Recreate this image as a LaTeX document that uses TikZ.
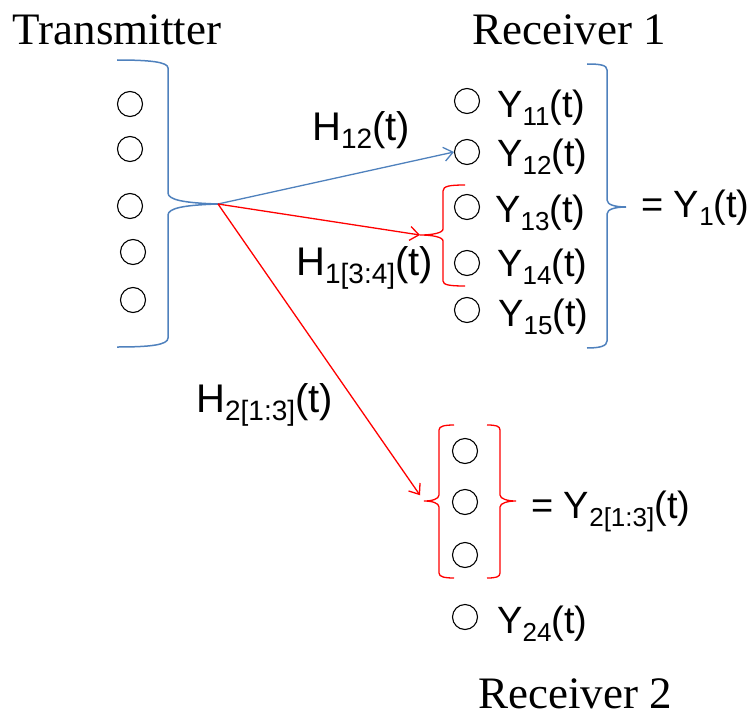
\documentclass[tikz,border=0pt]{standalone}
\usepackage{fontspec}
\setmainfont{Liberation Serif}
\setsansfont{Liberation Sans}
\usepackage{xcolor}
\usetikzlibrary{arrows.meta,calc}
\definecolor{braceblue}{RGB}{79,129,189}
\newcommand{\lowsub}[1]{\raisebox{-8pt}{\fontsize{26}{26}\selectfont #1}}
\newcommand{\lowsubh}[1]{\raisebox{-8pt}{\fontsize{28}{28}\selectfont #1}}
\begin{document}
\begin{tikzpicture}[x=1pt, y=1pt,
  dot/.style={circle, draw=black, line width=1.1pt, minimum size=25pt, inner sep=0pt},
  head/.style={font=\fontsize{45}{50}\selectfont, inner sep=0pt, anchor=base},
  lbl/.style={font=\sffamily\fontsize{38}{40}\selectfont, inner sep=0pt, anchor=base west},
  hlbl/.style={lbl, font=\sffamily\fontsize{40}{42}\selectfont},
  bluebrace/.style={draw=braceblue, line width=1.5pt},
  redbrace/.style={draw=red, line width=1.3pt},
  arr/.style={-{Straight Barb[length=9pt,width=14pt]}, line width=1.3pt}]
\useasboundingbox (0,0) rectangle (752,-717);
\node[head] (tx) at (117,-45) {Transmitter};
\node[head] (rx1) at (569,-45) {Receiver 1};
\node[head] (rx2) at (575,-708) {Receiver 2};
\node[dot] (t1) at (130,-104) {};
\node[dot] (t2) at (130,-149) {};
\node[dot] (t3) at (130,-206) {};
\node[dot] (t4) at (133,-252) {};
\node[dot] (t5) at (133,-300) {};
\node[dot] (r11) at (467,-101) {};
\node[dot] (r12) at (467,-152) {};
\node[dot] (r13) at (467,-207) {};
\node[dot] (r14) at (467,-263) {};
\node[dot] (r15) at (467,-310) {};
\node[dot] (r21) at (465,-451) {};
\node[dot] (r22) at (465,-502) {};
\node[dot] (r23) at (465,-555) {};
\node[dot] (r24) at (465,-617) {};
\node[lbl] (y11) at (497,-117) {Y\lowsub{11}(t)};
\node[lbl] (y12) at (497,-166) {Y\lowsub{12}(t)};
\node[lbl] (y13) at (495,-222) {Y\lowsub{13}(t)};
\node[lbl] (y14) at (497,-276) {Y\lowsub{14}(t)};
\node[lbl] (y15) at (498,-326) {Y\lowsub{15}(t)};
\node[lbl] (y24) at (497,-633) {Y\lowsub{24}(t)};
\node[lbl] (y1) at (641,-217) {= Y\lowsub{1}(t)};
\node[lbl] (y2) at (531,-518) {= Y\lowsub{2[1:3]}(t)};
\node[hlbl] (h12) at (312,-140) {H\lowsubh{12}(t)};
\node[hlbl] (h134) at (296,-275) {H\lowsubh{1[3:4]}(t)};
\node[hlbl] (h213) at (196,-412) {H\lowsubh{2[1:3]}(t)};
\coordinate (txtip) at (218,-204);
\coordinate (r1tip) at (420,-235);
\coordinate (r2tip) at (424,-501);
\draw[bluebrace] (117,-60) .. controls (150,-60) and (168,-62) .. (168,-68) -- (168,-193)
  .. controls (168,-200) and (185,-203) .. (txtip) .. controls (185,-205) and (168,-208) .. (168,-215)
  -- (168,-338) .. controls (168,-345) and (150,-347) .. (117,-347);
\draw[bluebrace] (587,-64) .. controls (600,-64) and (607,-65) .. (607,-70) -- (607,-200)
  .. controls (607,-205) and (616,-207) .. (626,-207) .. controls (616,-207) and (607,-209) .. (607,-214)
  -- (607,-341) .. controls (607,-346) and (600,-348) .. (587,-348);
\draw[redbrace] (465,-185) .. controls (450,-185) and (443,-186) .. (443,-191) -- (443,-229)
  .. controls (443,-233) and (432,-235) .. (r1tip) .. controls (432,-235) and (443,-237) .. (443,-241)
  -- (443,-281) .. controls (443,-285) and (450,-286) .. (465,-286);
\draw[redbrace] (454,-425) .. controls (445,-425) and (439,-426) .. (439,-430) -- (439,-495)
  .. controls (439,-499) and (432,-501) .. (r2tip) .. controls (432,-501) and (439,-503) .. (439,-507)
  -- (439,-573) .. controls (439,-577) and (445,-578) .. (454,-578);
\draw[redbrace] (487,-425) .. controls (496,-425) and (500,-426) .. (500,-430) -- (500,-495)
  .. controls (500,-499) and (508,-501) .. (516,-501) .. controls (508,-501) and (500,-503) .. (500,-507)
  -- (500,-573) .. controls (500,-577) and (496,-578) .. (487,-578);
\draw[arr, braceblue] (txtip) -- (r12.west);
\draw[arr, red] (txtip) -- (r1tip);
\draw[arr, red, shorten >=7pt] (txtip) -- (r2tip);
\end{tikzpicture}
\end{document}
